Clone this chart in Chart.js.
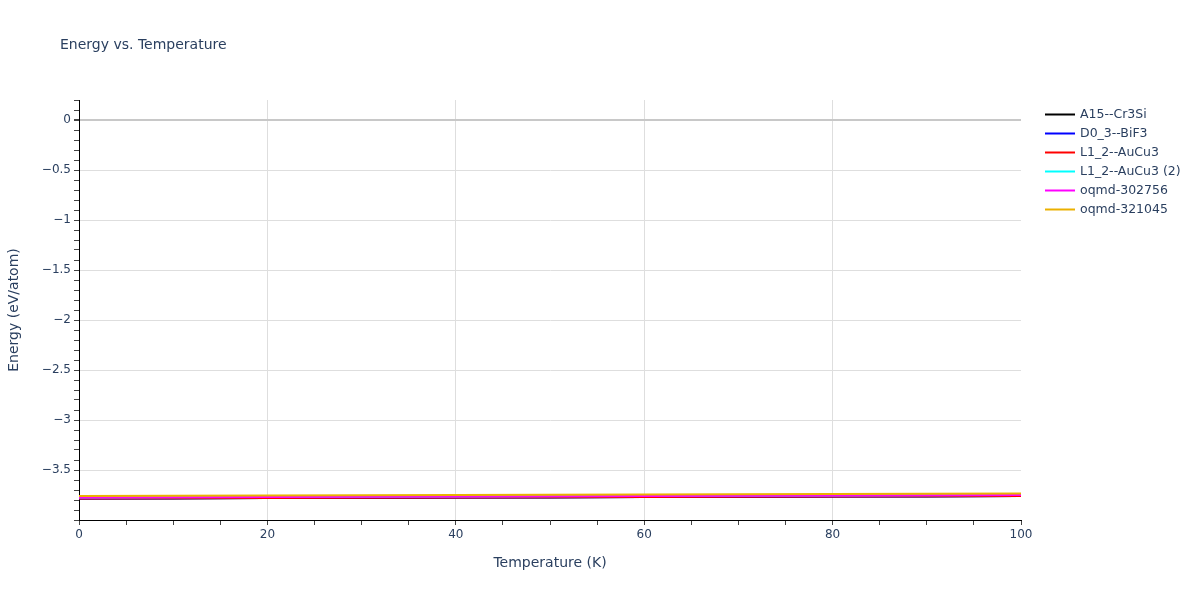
<!DOCTYPE html>
<html>
<head>
<meta charset="utf-8">
<script src="https://cdn.jsdelivr.net/npm/chart.js@4"></script>
<style>
  html, body { margin: 0; padding: 0; background: #fff; }
  #wrap { width: 1200px; height: 600px; }
</style>
</head>
<body>
<div id="wrap"><canvas id="energyChart" width="1200" height="600"></canvas></div>
<script>
// Temperature grid (K)
const temperatures = [0, 10, 20, 30, 40, 50, 60, 70, 80, 90, 100];

// Energy per atom (eV/atom)
const a15Cr3Si   = [-3.786, -3.784, -3.781, -3.779, -3.776, -3.774, -3.771, -3.769, -3.766, -3.764, -3.761];
const d03BiF3    = [-3.785, -3.783, -3.780, -3.778, -3.775, -3.773, -3.770, -3.768, -3.765, -3.763, -3.760];
const l12AuCu3   = [-3.785, -3.783, -3.780, -3.778, -3.775, -3.773, -3.770, -3.768, -3.765, -3.763, -3.760];
const l12AuCu3b  = [-3.775, -3.773, -3.770, -3.768, -3.765, -3.763, -3.760, -3.758, -3.755, -3.753, -3.750];
const oqmd302756 = [-3.775, -3.773, -3.770, -3.768, -3.765, -3.763, -3.760, -3.758, -3.755, -3.753, -3.750];
const oqmd321045 = [-3.760, -3.758, -3.755, -3.753, -3.750, -3.748, -3.745, -3.743, -3.740, -3.738, -3.735];

const seriesNames = ["A15--Cr3Si", "D0_3--BiF3", "L1_2--AuCu3", "L1_2--AuCu3 (2)", "oqmd-302756", "oqmd-321045"];
const seriesValues = [a15Cr3Si, d03BiF3, l12AuCu3, l12AuCu3b, oqmd302756, oqmd321045];
const seriesColors = ["#000000", "#0000ff", "#ff0000", "#00ffff", "#ff00ff", "#ebb000"];

const TEXT = "#2a3f5f";
const FONT = "'DejaVu Sans', Verdana, sans-serif";

const isMult = (v, step) => Math.abs(v / step - Math.round(v / step)) < 1e-6;
const fmtMinus = (v) => String(Math.round(v * 10) / 10).replace("-", "\u2212");

// Title + legend drawn Plotly-style
const decorPlugin = {
  id: "decor",
  afterDraw(chart) {
    const c = chart.ctx;
    c.save();
    c.fillStyle = TEXT;
    c.font = "14px " + FONT;
    c.textBaseline = "middle";
    c.textAlign = "left";
    c.fillText("Energy vs. Temperature", 60, 45);

    c.font = "12.5px " + FONT;
    seriesNames.forEach((name, i) => {
      const y = 114.5 + i * 19;
      c.strokeStyle = seriesColors[i];
      c.lineWidth = 2;
      c.beginPath();
      c.moveTo(1045, y);
      c.lineTo(1075, y);
      c.stroke();
      c.fillStyle = TEXT;
      c.fillText(name, 1080, y);
    });
    c.restore();
  }
};

const datasets = seriesNames.map((name, i) => ({
  label: name,
  data: temperatures.map((t, j) => ({ x: t, y: seriesValues[i][j] })),
  borderColor: seriesColors[i],
  backgroundColor: seriesColors[i],
  borderWidth: 2,
  pointRadius: 0,
  tension: 0,
  fill: false,
  order: seriesNames.length - i          // later series on top
}));

new Chart(document.getElementById("energyChart"), {
  type: "line",
  data: { datasets },
  plugins: [decorPlugin],
  options: {
    responsive: false,
    animation: false,
    layout: { padding: { left: 0, top: 100, right: 179, bottom: 0 } },
    plugins: {
      legend: { display: false },
      title: { display: false },
      tooltip: { enabled: false }
    },
    scales: {
      x: {
        type: "linear",
        min: 0,
        max: 100,
        afterFit: (s) => { s.height = 80; },
        ticks: {
          stepSize: 5,
          autoSkip: false,
          maxRotation: 0,
          padding: 3,
          color: TEXT,
          font: { family: FONT, size: 12 },
          callback: (v) => (isMult(v, 20) ? String(v) : "")
        },
        grid: {
          drawOnChartArea: true,
          color: (ctx) => {
            const v = ctx.tick ? ctx.tick.value : null;
            return v !== null && isMult(v, 20) && v > 0 && v < 100 ? "#dedede" : "rgba(0,0,0,0)";
          },
          tickColor: "#444",
          tickLength: 5,
          lineWidth: 1
        },
        border: { display: true, color: "#000", width: 1 },
        title: {
          display: true,
          text: "Temperature (K)",
          color: TEXT,
          font: { family: FONT, size: 14 },
          padding: { top: 28, bottom: 28 }
        }
      },
      y: {
        type: "linear",
        min: -4,
        max: 0.2,
        afterFit: (s) => { s.width = 79; },
        ticks: {
          stepSize: 0.1,
          autoSkip: false,
          padding: 3,
          color: TEXT,
          font: { family: FONT, size: 12 },
          callback: (v) => (isMult(v, 0.5) && v > -3.95 ? fmtMinus(v) : "")
        },
        grid: {
          color: (ctx) => {
            const v = ctx.tick ? ctx.tick.value : null;
            if (v === null || !isMult(v, 0.5) || v < -3.95) return "rgba(0,0,0,0)";
            return Math.abs(v) < 1e-6 ? "#c8c8c8" : "#dedede";
          },
          tickColor: "#444",
          tickLength: 5,
          lineWidth: (ctx) => (ctx.tick && Math.abs(ctx.tick.value) < 1e-6 ? 2 : 1)
        },
        border: { display: true, color: "#000", width: 1 },
        title: {
          display: true,
          text: "Energy (eV/atom)",
          color: TEXT,
          font: { family: FONT, size: 14 },
          padding: { top: 6 }
        }
      }
    }
  }
});
</script>
</body>
</html>
